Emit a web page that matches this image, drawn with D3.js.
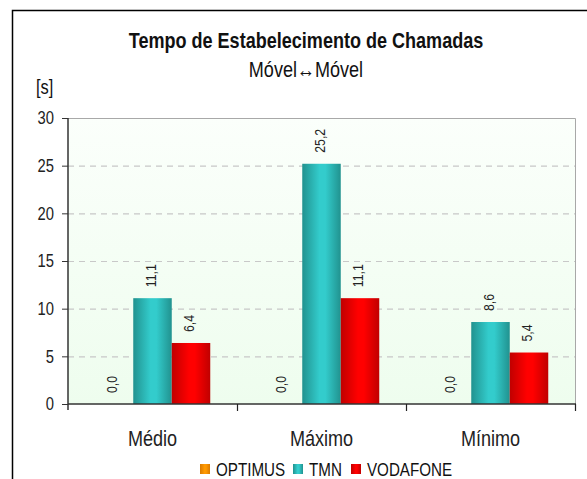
<!DOCTYPE html>
<html><head><meta charset="utf-8">
<script src="https://cdn.jsdelivr.net/npm/d3@7"></script>
<style>
html,body{margin:0;padding:0;background:#fff;}
svg{display:block;}
text{font-family:"Liberation Sans",Arial,sans-serif;}
</style></head>
<body>
<svg id="c" width="587" height="479"></svg>
<script>
const categories = ["Médio", "Máximo", "Mínimo"];
const seriesNames = ["OPTIMUS", "TMN", "VODAFONE"];
const optimus = [0.0, 0.0, 0.0];
const tmn = [11.1, 25.2, 8.6];
const vodafone = [6.4, 11.1, 5.4];
const yTicks = [0, 5, 10, 15, 20, 25, 30];
const title = "Tempo de Estabelecimento de Chamadas";
const subtitle = "Móvel↔Móvel";
const unitLabel = "[s]";

const seriesValues = [optimus, tmn, vodafone];
const colors = [
  {edge:"#d97a00", mid:"#ff9900"},
  {edge:"#21928f", mid:"#33cccc"},
  {edge:"#c00000", mid:"#ff0000"}
];

// make text look like Arial Narrow: compress horizontally
function narrow(sel, f) {
  sel.each(function(){
    const w = this.getComputedTextLength();
    d3.select(this).attr("textLength", w*(f||0.82)).attr("lengthAdjust","spacingAndGlyphs");
  });
}

const svg = d3.select("#c");
const defs = svg.append("defs");
colors.forEach((c,i)=>{
  const g = defs.append("linearGradient").attr("id","g"+i).attr("x1","0").attr("x2","1").attr("y1","0").attr("y2","0");
  g.append("stop").attr("offset","0%").attr("stop-color",c.edge);
  g.append("stop").attr("offset","45%").attr("stop-color",c.mid);
  g.append("stop").attr("offset","60%").attr("stop-color",c.mid);
  g.append("stop").attr("offset","100%").attr("stop-color",c.edge);
});
const bg = defs.append("linearGradient").attr("id","bg").attr("x1","0").attr("x2","0").attr("y1","0").attr("y2","1");
bg.append("stop").attr("offset","0%").attr("stop-color","#fbfffb");
bg.append("stop").attr("offset","100%").attr("stop-color","#eefdee");

// outer frame
svg.append("path").attr("d","M12.5,479 L12.5,10.5 L587,10.5").attr("fill","none").attr("stroke","#000").attr("stroke-width",1.5);

const L = 68, R = 575, T = 118, B = 404;
const x = d3.scaleBand().domain(categories).range([L, R]);
const barW = 38.5;
const y = d3.scaleLinear().domain([0, 30]).range([B, T]);

svg.append("rect").attr("x",L).attr("y",T).attr("width",R-L).attr("height",B-T).attr("fill","url(#bg)");

// gridlines
svg.append("g").selectAll("line").data(yTicks.filter(t=>t>0 && t<30)).join("line")
  .attr("x1",L).attr("x2",R).attr("y1",d=>y(d)+0.5).attr("y2",d=>y(d)+0.5)
  .attr("stroke","#c8c8c8").attr("stroke-width",1.2).attr("stroke-dasharray","6,5");
// plot border top/right
svg.append("path").attr("d",`M${L},${T+0.5} L${R+0.5},${T+0.5} L${R+0.5},${B}`).attr("fill","none").attr("stroke","#a8a8a8").attr("stroke-width",1);

// bars
const gBars = svg.append("g");
categories.forEach((cat,ci)=>{
  const center = x(cat) + x.bandwidth()/2;
  seriesNames.forEach((s,si)=>{
    const v = seriesValues[si][ci];
    const bx = center + (si-1.5)*barW;
    if (v>0) {
      gBars.append("rect").attr("x",bx).attr("y",y(v)).attr("width",barW).attr("height",y(0)-y(v))
        .attr("fill",`url(#g${si})`);
    }
    const lx = bx + barW/2, ly = y(v) - 11;
    gBars.append("text").attr("class","vl").attr("transform",`translate(${lx+3},${ly}) rotate(-90)`)
      .attr("font-size",15).attr("fill","#222").text(d3.format(".1f")(v).replace(".",","));
  });
});
narrow(gBars.selectAll("text.vl"));

// y axis
const yAxis = svg.append("g").attr("transform",`translate(${L},0)`)
  .call(d3.axisLeft(y).tickValues(yTicks).tickSize(6).tickPadding(8).tickFormat(d3.format("d")));
yAxis.select(".domain").attr("stroke","#333").attr("stroke-width",1.5).attr("d",`M0,${T}V${B+6}`);
yAxis.selectAll(".tick line").attr("stroke","#333");
yAxis.selectAll("text").attr("font-size",18).attr("fill","#222").attr("font-family","Liberation Sans, Arial, sans-serif");
narrow(yAxis.selectAll("text"));

// x axis
const xAxis = svg.append("g").attr("transform",`translate(0,${B})`)
  .call(d3.axisBottom(x).tickSize(0).tickPadding(26));
xAxis.select(".domain").attr("stroke","#333").attr("stroke-width",1.5).attr("d",`M${L},0H${R+1}`);
xAxis.selectAll("text").attr("font-size",22).attr("fill","#222").attr("font-family","Liberation Sans, Arial, sans-serif");
narrow(xAxis.selectAll("text"));
// category separator ticks
svg.append("g").selectAll("line").data(categories.slice(1).map(c=>x(c)).concat([R])).join("line")
  .attr("x1",d=>d+0.5).attr("x2",d=>d+0.5).attr("y1",B).attr("y2",B+7).attr("stroke","#222").attr("stroke-width",1.2);

// titles
const tg = svg.append("g");
tg.append("text").attr("x",306).attr("y",48).attr("text-anchor","middle").attr("font-size",22).attr("font-weight","bold").attr("fill","#111").text(title);
tg.append("text").attr("x",306).attr("y",77).attr("text-anchor","middle").attr("font-size",22).attr("fill","#111").text(subtitle);
tg.append("text").attr("x",36).attr("y",94).attr("font-size",20).attr("fill","#111").text(unitLabel);
narrow(tg.selectAll("text"));

// legend
const legX = [200, 293, 351];
const leg = svg.append("g");
seriesNames.forEach((s,i)=>{
  leg.append("rect").attr("x",legX[i]).attr("y",464).attr("width",10).attr("height",10).attr("fill",`url(#g${i})`);
  leg.append("text").attr("x",legX[i]+16).attr("y",476).attr("font-size",18.5).attr("fill","#111").text(s);
});
narrow(leg.selectAll("text"));
</script>
</body></html>
